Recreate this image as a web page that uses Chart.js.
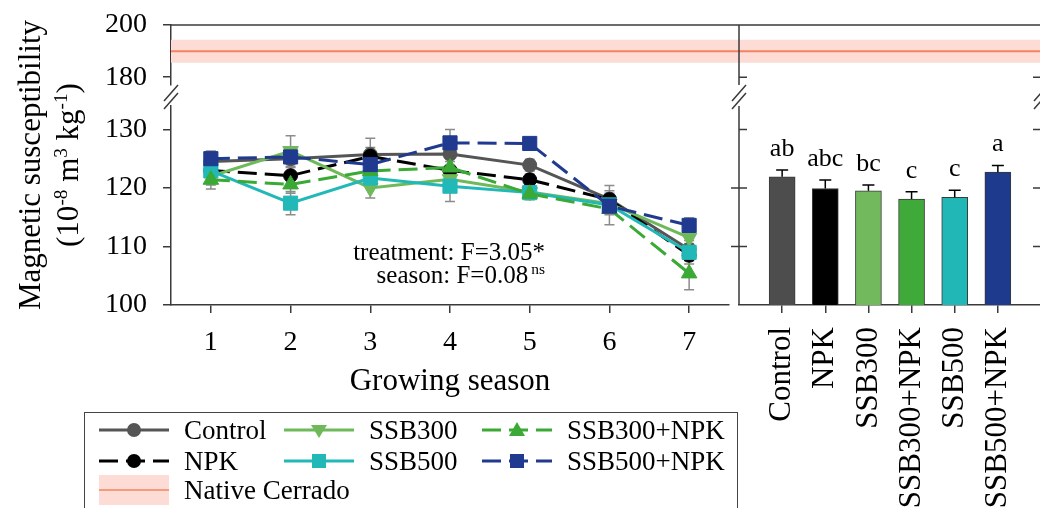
<!DOCTYPE html>
<html lang="en">
<head>
<meta charset="utf-8">
<title>Magnetic susceptibility</title>
<script src="https://cdn.jsdelivr.net/npm/chart.js@4.4.1/dist/chart.umd.min.js"></script>
<style>
  html, body { margin: 0; padding: 0; background: #fff; }
  body { position: relative; width: 1040px; height: 508px; overflow: hidden;
         font-family: 'Liberation Serif', 'Times New Roman', serif; color: #000; }
  canvas { position: absolute; }
  #upperLeft { left: 0; top: 0; }
  #lowerLeft { left: 0; top: 80px; }
  #upperRight { left: 729px; top: 0; }
  #lowerRight { left: 729px; top: 80px; }
  .ytitle { position: absolute; left: -111px; top: 127px; width: 320px; height: 76px;
            transform: rotate(-90deg); text-align: center; font-size: 31px; line-height: 38px; white-space: nowrap; }
  sup { font-size: 0.62em; position: relative; top: -0.55em; vertical-align: baseline; line-height: 0; }
  .stats { position: absolute; right: 495px; top: 240px; font-size: 25px; line-height: 23px; text-align: right; white-space: nowrap; }
  .stats sup { margin-left: 3px; }
  .legend-box { position: absolute; left: 84px; top: 412px; width: 652px; height: 120px; border: 1.5px solid #444; }
  .legend-text { position: absolute; height: 30px; font-size: 27px; line-height: 30px; white-space: nowrap; }
  .legend-key { position: absolute; }
</style>
</head>
<body>
<canvas id="upperLeft" width="740" height="90"></canvas>
<canvas id="lowerLeft" width="740" height="320"></canvas>
<canvas id="upperRight" width="330" height="90"></canvas>
<canvas id="lowerRight" width="330" height="428"></canvas>

<div class="ytitle">Magnetic susceptibility<br>(10<sup>-8</sup> m<sup>3</sup> kg<sup>-1</sup>)</div>
<div class="stats">treatment: F=3.05*<br>season: F=0.08<sup>ns</sup></div>
<div class="legend-box"></div>
<div id="legend"></div>

<script>
// growing seasons on the x axis
const seasons = [1, 2, 3, 4, 5, 6, 7];

// season means per treatment (10^-8 m3 kg-1)
const controlVals   = [124.5, 125.0, 125.7, 125.8, 123.9, 118.1, 109.5];
const npkVals       = [123.0, 122.1, 125.4, 123.0, 121.4, 118.0, 108.5];
const ssb300Vals    = [122.0, 126.3, 120.0, 121.5, 119.3, 117.3, 111.5];
const ssb500Vals    = [122.9, 117.4, 121.7, 120.3, 119.2, 117.1, 109.0];
const ssb300NpkVals = [121.4, 120.6, 122.9, 123.5, 119.0, 116.4, 105.4];
const ssb500NpkVals = [125.0, 125.3, 124.0, 127.7, 127.6, 116.9, 113.6];

// standard errors
const controlErr   = [1.5, 1.5, 2.8, 2.0, 1.0, 2.3, 1.5];
const npkErr       = [1.5, 1.5, 1.5, 1.5, 1.0, 1.5, 1.5];
const ssb300Err    = [1.5, 2.6, 1.7, 2.0, 1.0, 1.5, 1.5];
const ssb500Err    = [1.5, 2.0, 1.5, 2.6, 1.0, 1.5, 1.5];
const ssb300NpkErr = [1.6, 1.5, 1.5, 1.5, 1.0, 2.7, 2.8];
const ssb500NpkErr = [1.3, 1.2, 1.5, 2.3, 0.8, 1.5, 1.3];

// overall treatment means (right panel)
const treatments = ['Control', 'NPK', 'SSB300', 'SSB300+NPK', 'SSB500', 'SSB500+NPK'];
const barMeans   = [121.9, 119.9, 119.5, 118.1, 118.4, 122.7];
const barErr     = [1.15, 1.45, 1.0, 1.25, 1.2, 1.15];
const barLetters = ['ab', 'abc', 'bc', 'c', 'c', 'a'];

// native Cerrado reference
const cerradoMean = 189.9;
const cerradoErr = 4.4;

const upperTicks = [180, 200];
const lowerTicks = [100, 110, 120, 130];

const axisColor = '#3a3a3a';
const bandColor = '#fcdcd5';
const cerradoLine = '#f4845f';

const lineSeries = [
    { label: 'Control',    values: controlVals,   errors: controlErr,   color: '#555555', dash: [],      style: 'circle',   radius: 7,  rotation: 0 },
    { label: 'NPK',        values: npkVals,       errors: npkErr,       color: '#000000', dash: [19, 8], style: 'circle',   radius: 7,  rotation: 0 },
    { label: 'SSB300',     values: ssb300Vals,    errors: ssb300Err,    color: '#70b95b', dash: [],      style: 'triangle', radius: 9,  rotation: 180 },
    { label: 'SSB500',     values: ssb500Vals,    errors: ssb500Err,    color: '#22b8b8', dash: [],      style: 'rect',     radius: 10, rotation: 0 },
    { label: 'SSB300+NPK', values: ssb300NpkVals, errors: ssb300NpkErr, color: '#3aa935', dash: [19, 8], style: 'triangle', radius: 9,  rotation: 0 },
    { label: 'SSB500+NPK', values: ssb500NpkVals, errors: ssb500NpkErr, color: '#1f3a8f', dash: [19, 8], style: 'rect',     radius: 10, rotation: 0 }
];
const barColors = ['#4d4d4d', '#000000', '#72b85c', '#3faa3a', '#22b7b7', '#1d3a8c'];

Chart.defaults.font.family = "'Liberation Serif', 'Times New Roman', serif";
Chart.defaults.color = '#000';
Chart.defaults.animation = false;
Chart.defaults.plugins.legend.display = false;
Chart.defaults.plugins.tooltip.enabled = false;

// spines, inward ticks and axis-break marks that Chart.js does not draw itself
const framePlugin = {
    id: 'frame',
    afterDraw(chart, args, opts) {
        const { ctx, chartArea: a } = chart;
        const ys = chart.scales.y;
        const tick = 8;
        ctx.save();
        ctx.strokeStyle = axisColor;
        ctx.lineWidth = 1.5;
        ctx.beginPath();
        if (opts.top) { ctx.moveTo(a.left, a.top); ctx.lineTo(a.right, a.top); }
        if (opts.left) { ctx.moveTo(a.left, a.top); ctx.lineTo(a.left, a.bottom); }
        if (opts.right) { ctx.moveTo(a.right, a.top); ctx.lineTo(a.right, a.bottom); }
        (opts.innerTicks || []).forEach(v => {
            const y = ys.getPixelForValue(v);
            ctx.moveTo(a.left, y); ctx.lineTo(a.left + tick, y);
            ctx.moveTo(a.right, y); ctx.lineTo(a.right - tick, y);
        });
        (opts.leftOutTicks || []).forEach(v => {
            const y = ys.getPixelForValue(v);
            ctx.moveTo(a.left, y); ctx.lineTo(a.left - tick, y);
        });
        (opts.breaks || []).forEach(side => {
            const x = side === 'left' ? a.left : a.right;
            const yc = a.top - 10;
            [0, 8].forEach(d => { ctx.moveTo(x - 7, yc + 5 + d); ctx.lineTo(x + 7, yc - 11 + d); });
        });
        ctx.stroke();
        ctx.restore();
    }
};

const errorBarPlugin = {
    id: 'errorBars',
    beforeDatasetsDraw(chart) {
        const { ctx } = chart;
        const xs = chart.scales.x, ys = chart.scales.y;
        ctx.save();
        ctx.strokeStyle = '#8c8c8c';
        ctx.lineWidth = 1.5;
        ctx.beginPath();
        chart.data.datasets.forEach(ds => {
            ds.data.forEach((p, i) => {
                const x = xs.getPixelForValue(p.x);
                const lo = ys.getPixelForValue(p.y - ds.errors[i]);
                const hi = ys.getPixelForValue(p.y + ds.errors[i]);
                ctx.moveTo(x, lo); ctx.lineTo(x, hi);
                ctx.moveTo(x - 5, lo); ctx.lineTo(x + 5, lo);
                ctx.moveTo(x - 5, hi); ctx.lineTo(x + 5, hi);
            });
        });
        ctx.stroke();
        ctx.restore();
    }
};

const barDecorPlugin = {
    id: 'barDecor',
    afterDatasetsDraw(chart) {
        const { ctx } = chart;
        const xs = chart.scales.x, ys = chart.scales.y;
        ctx.save();
        ctx.strokeStyle = '#000';
        ctx.fillStyle = '#000';
        ctx.lineWidth = 1.5;
        ctx.font = "26px 'Liberation Serif', serif";
        ctx.textAlign = 'center';
        ctx.textBaseline = 'alphabetic';
        barMeans.forEach((m, i) => {
            const x = xs.getPixelForValue(i + 1);
            const y0 = ys.getPixelForValue(m);
            const y1 = ys.getPixelForValue(m + barErr[i]);
            ctx.beginPath();
            ctx.moveTo(x, y0); ctx.lineTo(x, y1);
            ctx.moveTo(x - 6, y1); ctx.lineTo(x + 6, y1);
            ctx.stroke();
            ctx.fillText(barLetters[i], x, y1 - 14);
        });
        ctx.restore();
    }
};

function shownY(min, max, ticks) {
    return {
        min, max,
        afterBuildTicks: s => { s.ticks = ticks.map(v => ({ value: v })); },
        afterFit: s => { s.width = 171; s.paddingTop = 0; s.paddingBottom = 0; },
        border: { color: axisColor, width: 1.5 },
        grid: { drawOnChartArea: false, tickLength: 8, color: axisColor, lineWidth: 1.5 },
        ticks: { font: { size: 28 }, padding: 16, color: '#000' }
    };
}

function cerradoSets(x0, x1) {
    const flat = v => [{ x: x0, y: v }, { x: x1, y: v }];
    return [
        { data: flat(cerradoMean - cerradoErr), borderColor: 'transparent', borderWidth: 0, pointRadius: 0, fill: false, order: 2 },
        { data: flat(cerradoMean + cerradoErr), borderColor: 'transparent', borderWidth: 0, pointRadius: 0, fill: '-1', backgroundColor: bandColor, order: 1 },
        { data: flat(cerradoMean), borderColor: cerradoLine, borderWidth: 2, pointRadius: 0, fill: false, order: 0 }
    ];
}

// left panel, upper (broken) section
new Chart(document.getElementById('upperLeft'), {
    type: 'line',
    data: { datasets: cerradoSets(0.5, 7.5) },
    options: {
        responsive: false,
        layout: { padding: { top: 25, bottom: 5, left: 0, right: 1 } },
        plugins: { frame: { top: true } },
        scales: {
            x: { type: 'linear', min: 0.5, max: 7.5, display: false },
            y: shownY(177, 200, upperTicks)
        }
    },
    plugins: [framePlugin]
});

// left panel, seasons
new Chart(document.getElementById('lowerLeft'), {
    type: 'line',
    data: {
        datasets: lineSeries.map((s, i) => ({
            label: s.label,
            data: s.values.map((v, k) => ({ x: seasons[k], y: v })),
            errors: s.errors,
            borderColor: s.color,
            backgroundColor: s.color,
            borderWidth: 3,
            borderDash: s.dash,
            pointStyle: s.style,
            pointRadius: s.radius,
            pointRotation: s.rotation,
            pointBorderWidth: 1,
            order: lineSeries.length - i
        }))
    },
    options: {
        responsive: false,
        layout: { padding: { top: 26, bottom: 0, left: 0, right: 1 } },
        plugins: { frame: { breaks: ['left'] } },
        scales: {
            x: {
                type: 'linear', min: 0.5, max: 7.5,
                afterBuildTicks: s => { s.ticks = seasons.map(v => ({ value: v })); },
                afterFit: s => { s.height = 95; },
                border: { color: axisColor, width: 1.5 },
                grid: { drawOnChartArea: false, tickLength: 8, color: axisColor, lineWidth: 1.5 },
                ticks: { font: { size: 28 }, padding: 13, color: '#000' },
                title: { display: true, text: 'Growing season', font: { size: 31 }, padding: { top: 0, bottom: 0 }, color: '#000' }
            },
            y: shownY(100, 134, lowerTicks)
        }
    },
    plugins: [framePlugin, errorBarPlugin]
});

// right panel, upper (broken) section
new Chart(document.getElementById('upperRight'), {
    type: 'line',
    data: { datasets: cerradoSets(0, 7) },
    options: {
        responsive: false,
        layout: { padding: { top: 25, bottom: 5, left: 10, right: 18 } },
        plugins: { frame: { top: true, left: true, right: true, innerTicks: [180] } },
        scales: {
            x: { type: 'linear', min: 0, max: 7, display: false },
            y: { min: 177, max: 200, display: false }
        }
    },
    plugins: [framePlugin]
});

// right panel, treatment means
new Chart(document.getElementById('lowerRight'), {
    type: 'bar',
    data: {
        datasets: [{
            data: barMeans.map((v, i) => ({ x: i + 1, y: v })),
            base: 100,
            barThickness: 26,
            backgroundColor: barColors,
            borderColor: axisColor,
            borderWidth: 1
        }]
    },
    options: {
        responsive: false,
        layout: { padding: { top: 26, bottom: 0, left: 10, right: 18 } },
        plugins: {
            frame: { left: true, right: true, innerTicks: [110, 120, 130], leftOutTicks: [110, 120], breaks: ['left', 'right'] }
        },
        scales: {
            x: {
                type: 'linear', min: 0, max: 7, offset: false,
                afterBuildTicks: s => { s.ticks = treatments.map((t, i) => ({ value: i + 1 })); },
                afterFit: s => { s.height = 203; },
                border: { color: axisColor, width: 1.5 },
                grid: { drawOnChartArea: false, offset: false, tickLength: 8, color: axisColor, lineWidth: 1.5 },
                ticks: {
                    autoSkip: false, minRotation: 90, maxRotation: 90,
                    font: { size: 31 }, padding: 14, color: '#000',
                    callback: v => treatments[v - 1] || ''
                }
            },
            y: { min: 100, max: 134, display: false }
        }
    },
    plugins: [framePlugin, barDecorPlugin]
});

// legend (column-major like the original)
const legendEntries = [
    { series: 0, col: 0, row: 0 }, { series: 1, col: 0, row: 1 }, { series: null, col: 0, row: 2 },
    { series: 2, col: 1, row: 0 }, { series: 3, col: 1, row: 1 },
    { series: 4, col: 2, row: 0 }, { series: 5, col: 2, row: 1 }
];
const keyX = [99, 284, 482];
const textX = [184, 369, 567];
const rowY = [430, 461, 490];

function markerSvg(s) {
    const c = s.color;
    if (s.style === 'circle') return `<circle cx="35" cy="15" r="7" fill="${c}"/>`;
    if (s.style === 'rect') return `<rect x="28" y="8" width="14" height="14" fill="${c}"/>`;
    if (s.rotation === 180) return `<polygon points="27,10 43,10 35,23" fill="${c}"/>`;
    return `<polygon points="27,21 43,21 35,7" fill="${c}"/>`;
}

const legendEl = document.getElementById('legend');
legendEl.innerHTML = legendEntries.map(e => {
    const top = rowY[e.row] - 15;
    let key, label;
    if (e.series === null) {
        label = 'Native Cerrado';
        key = `<rect x="0" y="0" width="70" height="30" fill="${bandColor}"/>
               <line x1="0" y1="15" x2="70" y2="15" stroke="${cerradoLine}" stroke-width="1.5"/>`;
    } else {
        const s = lineSeries[e.series];
        label = s.label;
        key = `<line x1="0" y1="15" x2="70" y2="15" stroke="${s.color}" stroke-width="3"
                 ${s.dash.length ? `stroke-dasharray="${s.dash.join(' ')}"` : ''}/>` + markerSvg(s);
    }
    return `<svg class="legend-key" width="70" height="30" style="left:${keyX[e.col]}px;top:${top}px">${key}</svg>
            <div class="legend-text" style="left:${textX[e.col]}px;top:${top}px">${label}</div>`;
}).join('');
</script>
</body>
</html>
